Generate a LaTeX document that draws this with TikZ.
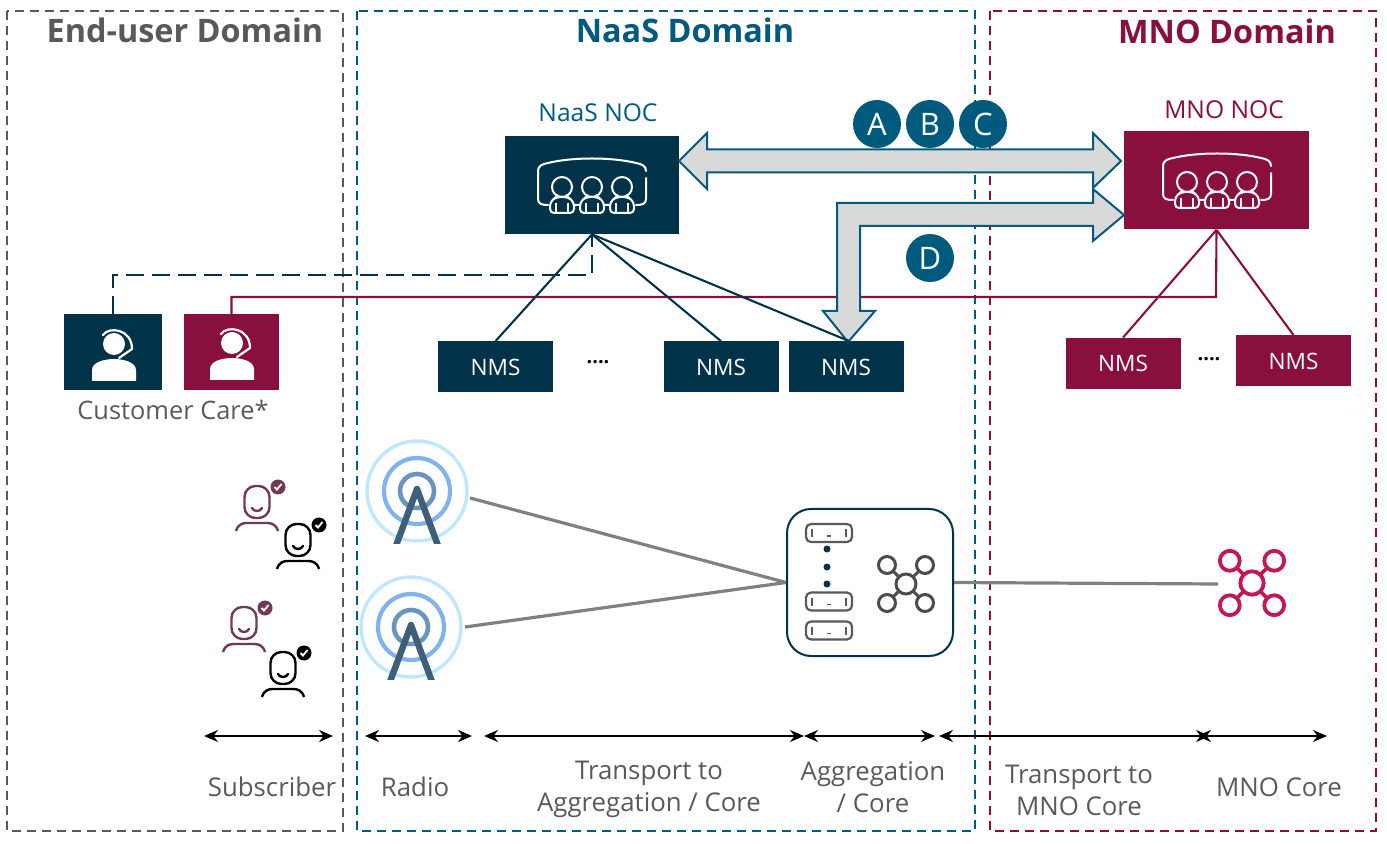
\documentclass[tikz,border=0pt]{standalone}
\usepackage{fontspec}
\setmainfont{Open Sans}
\usetikzlibrary{arrows.meta}
\definecolor{naasteal}{HTML}{005A7D}
\definecolor{naasdark}{HTML}{003349}
\definecolor{mnored}{HTML}{890F3F}
\definecolor{txtgray}{HTML}{595959}
\definecolor{arrowgray}{HTML}{D9D9D9}
\definecolor{hubpink}{HTML}{C2185B}
\definecolor{userred}{HTML}{6F3A55}
\definecolor{ringout}{HTML}{BFE8FF}
\definecolor{ringmid}{HTML}{7FB2EE}
\definecolor{ringin}{HTML}{6B93BF}
\definecolor{mastblue}{HTML}{3E5F7A}
\tikzset{
  domainbox/.style={draw=#1,line width=1pt,dash pattern=on 4.5pt off 3pt},
  domaintitle/.style={font=\fontsize{16.2}{20}\selectfont\bfseries,text=#1},
  nocbox/.style={fill=#1,minimum width=87pt,minimum height=49pt,inner sep=0pt},
  nmsbox/.style={fill=#1,minimum width=57.5pt,minimum height=25.5pt,inner sep=0pt,
    text=white,font=\fontsize{11.3}{13}\selectfont},
  carebox/.style={fill=#1,minimum width=48pt,minimum height=38pt,inner sep=0pt},
  noclabel/.style={font=\fontsize{12.3}{14}\selectfont,text=#1},
  seglabel/.style={font=\fontsize{12.9}{16}\selectfont,text=txtgray,align=center},
  letterdot/.style={circle,fill=naasteal,minimum size=24pt,inner sep=0pt,text=white,
    font=\fontsize{15.5}{18}\selectfont},
  bigarrow/.style={fill=arrowgray,draw=naasteal,line width=1pt,line join=miter},
  spanline/.style={{Stealth[length=7pt,width=6pt]}-{Stealth[length=7pt,width=6pt]},line width=1pt},
  greylink/.style={draw=black!50,line width=1.6pt},
  naasline/.style={naasdark,line width=1.05pt},
  mnoline/.style={mnored,line width=1.05pt},
  nocicon/.pic={
    \draw[white,line width=1pt,line cap=round]
      (-54,-14) .. controls (-54,-19) and (-50,-21) .. (-44,-22)
      .. controls (-20,-28) and (20,-28) .. (44,-22)
      .. controls (50,-21) and (54,-19) .. (54,-14)
      (54,-7) -- (54,14) .. controls (54,19) and (50,20) .. (44,20)
      (-54,-14) -- (-54,14) .. controls (-54,19) and (-50,20) .. (-44,20)
      (-18,20) -- (-12,20) (12,20) -- (18,20);
    \foreach \px in {-30,0,30} {
      \draw[white,line width=1pt] (\px,2) circle (10);
      \draw[white,line width=1pt,rounded corners=2pt]
        (\px-12,28) -- (\px-12,17) -- (\px-6,12) -- (\px+6,12) -- (\px+12,17) -- (\px+12,28) -- cycle;
      \draw[white,line width=.8pt] (\px-6,18) -- (\px-6,27) (\px+6,18) -- (\px+6,27);
    }
  },
  careicon/.pic={
    \fill[white] (0,0) circle (11);
    \draw[white,line width=1.1pt,line cap=round]
      (-11,-9) .. controls (-5,-18) and (18,-15) .. (18,5) -- (5,14);
    \fill[white] (-22,37) -- (-22,26) .. controls (-22,18) and (-9,15) .. (0,15)
      .. controls (9,15) and (22,18) .. (22,26) -- (22,37) -- cycle;
  },
  usericon/.pic={
    \draw[#1,line width=1.2pt,rounded corners=5.5pt] (-12.5,-16) rectangle (12.5,16);
    \draw[#1,line width=1.2pt,line cap=round] (-5,6) .. controls (-3,10) and (3,10) .. (5,6);
    \draw[#1,line width=1.2pt] (-21,29) .. controls (-19,22) and (-14,21) .. (-10,21)
      -- (10,21) .. controls (14,21) and (19,22) .. (21,29);
    \fill[#1] (21,-15) circle (7.5);
    \draw[white,line width=.9pt] (17.5,-15) -- (20,-12.5) -- (24.5,-18);
  },
  towericon/.pic={
    \draw[ringout,line width=1.7pt] (0,0) circle (50);
    \draw[ringmid,line width=2.1pt] (0,0) circle (33);
    \draw[ringin,line width=2.3pt] (0,0) circle (17);
    \begin{scope}
      \clip (-40,-20) rectangle (40,52);
      \draw[mastblue,line width=3.2pt,line join=round]
        (-23.7,62) -- (0,-2) -- (23.7,62);
    \end{scope}
  },
  hubicon/.pic={
    \draw[#1] (0,0) circle (10);
    \foreach \ox in {-19,19} \foreach \oy in {-19,19} {
      \draw[#1] (\ox,\oy) circle (8.5);
      \draw[#1] (\ox*.37,\oy*.37) -- (\ox*.7,\oy*.7);
    }
  },
  servericon/.pic={
    \draw[black!65,line width=1.1pt,rounded corners=2.5pt] (-23,-9) rectangle (23,9);
    \draw[black!65,line width=.9pt] (-17,-4) -- (-17,4) (17,-4) -- (17,4) (-2,3) -- (2,3);
  }
}
\begin{document}
\begin{tikzpicture}[x=0.5pt,y=-0.5pt]
  \useasboundingbox (0,0) rectangle (1387,844);

  % Domains
  \draw[domainbox=txtgray] (7,11) rectangle (343,831);
  \draw[domainbox=naasteal] (357,11) rectangle (975,831);
  \draw[domainbox=mnored] (990,11) rectangle (1376,831);
  \node[domaintitle=txtgray] (enduser) at (185,30) {End-user Domain};
  \node[domaintitle=naasteal] (naasdom) at (685,30) {NaaS Domain};
  \node[domaintitle=mnored] (mnodom) at (1227,31) {MNO Domain};

  % NOC boxes
  \node[nocbox=naasdark] (naasnoc) at (592,185) {};
  \node[nocbox=mnored,minimum width=92.5pt] (mnonoc) at (1216.5,180.5) {};
  \pic at (592,185) {nocicon};
  \pic at (1217,180) {nocicon};
  \node[noclabel=naasteal] (naaslabel) at (598,113) {NaaS NOC};
  \node[noclabel=mnored] (mnolabel) at (1224,110) {MNO NOC};

  % NMS boxes
  \node[nmsbox=naasdark] (nmsa) at (495.5,367) {\raisebox{-1pt}{NMS}};
  \node[nmsbox=naasdark] (nmsb) at (721,367) {\raisebox{-1pt}{NMS}};
  \node[nmsbox=naasdark] (nmsc) at (846,367) {\raisebox{-1pt}{NMS}};
  \node[nmsbox=mnored] (nmsd) at (1123,363.5) {\raisebox{-1pt}{NMS}};
  \node[nmsbox=mnored] (nmse) at (1293.5,361) {\raisebox{-1pt}{NMS}};
  \node[font=\bfseries] (dotsa) at (598,362) {....};
  \node[font=\bfseries] (dotsb) at (1209,359) {....};

  % Customer care
  \node[carebox=naasdark,minimum width=49pt] (carea) at (113,352.5) {};
  \node[carebox=mnored,minimum width=47.5pt] (careb) at (231.5,352.5) {};
  \pic at (114,344) {careicon};
  \pic at (232,343) {careicon};
  \node[seglabel,font=\fontsize{12.7}{16}\selectfont] (carelabel) at (173,410) {Customer Care*};

  % Management lines
  \draw[mnoline] (careb.north) |- (1216,297) -- (mnonoc.south);
  \draw[naasline,dash pattern=on 9pt off 4pt] (carea.north) |- (592,275) -- (naasnoc.south);
  \draw[naasline] (naasnoc.south) -- (nmsa.north);
  \draw[naasline] (naasnoc.south) -- (nmsb.north);
  \draw[mnoline] (mnonoc.south) -- (nmsd.north);
  \draw[mnoline] (mnonoc.south) -- (nmse.north);

  % Big arrows
  \draw[bigarrow] (679,161) -- (707,133) -- (707,149.5) -- (1093,149.5) -- (1093,133) -- (1121,161)
    -- (1093,188) -- (1093,172.5) -- (707,172.5) -- (707,189) -- cycle;
  \draw[bigarrow] (1124,215) -- (1093,189) -- (1093,203) -- (837,203) -- (837,311) -- (823,311) -- (848,342)
    -- (875,311) -- (860,311) -- (860,226) -- (1093,226) -- (1093,241) -- cycle;
  \draw[naasline] (naasnoc.south) -- ([xshift=1.5pt]nmsc.north);

  % Letters
  \node[letterdot] (la) at (877,124) {A};
  \node[letterdot] (lb) at (930,124) {B};
  \node[letterdot] (lc) at (983,124) {C};
  \node[letterdot] (ld) at (930,258) {D};

  % Subscribers
  \pic at (257,502) {usericon=userred};
  \pic at (298,540) {usericon=black};
  \pic at (244,623) {usericon=userred};
  \pic at (283,668) {usericon=black};

  % Towers
  \pic at (417,491) {towericon};
  \pic at (411,627) {towericon};

  % Aggregation
  \node[draw=naasdark,line width=1pt,fill=white,rounded corners=12pt,minimum width=83pt,minimum height=73.5pt] (aggbox) at (870,582.5) {};
  \pic at (829,533) {servericon};
  \pic at (829,601.5) {servericon};
  \pic at (829,630.5) {servericon};
  \foreach \dy in {549,567,584} \fill[naasdark] (827,\dy) circle (3.5);
  \pic[line width=1.5pt] at (906,584) {hubicon=black!70};
  \pic[line width=1.9pt,scale=1.17] at (1252,583) {hubicon=hubpink};

  % Radio and core links
  \coordinate (towera) at (470,498);
  \coordinate (towerb) at (465,627);
  \coordinate (corehub) at (1218,584);
  \draw[greylink] (towera) -- (aggbox.west);
  \draw[greylink] (towerb) -- (aggbox.west);
  \draw[greylink] (aggbox.east) -- (corehub);

  % Segments
  \foreach \sa/\sb [count=\si] in {204/333,365/472,484/804,804/935,939/1210,1197/1327} {
    \coordinate (spa\si) at (\sa,736);
    \coordinate (spb\si) at (\sb,736);
    \draw[spanline] (spa\si) -- (spb\si);
  }
  \node[seglabel] (subs) at (272,787) {Subscriber};
  \node[seglabel] (radio) at (415,787) {Radio};
  \node[seglabel] (transa) at (649,789) {Transport to\\Aggregation / Core};
  \node[seglabel] (aggr) at (873,787) {Aggregation\\/ Core};
  \node[seglabel] (transb) at (1079,790) {Transport to\\MNO Core};
  \node[seglabel] (mnocore) at (1279,787) {MNO Core};
\end{tikzpicture}
\end{document}
